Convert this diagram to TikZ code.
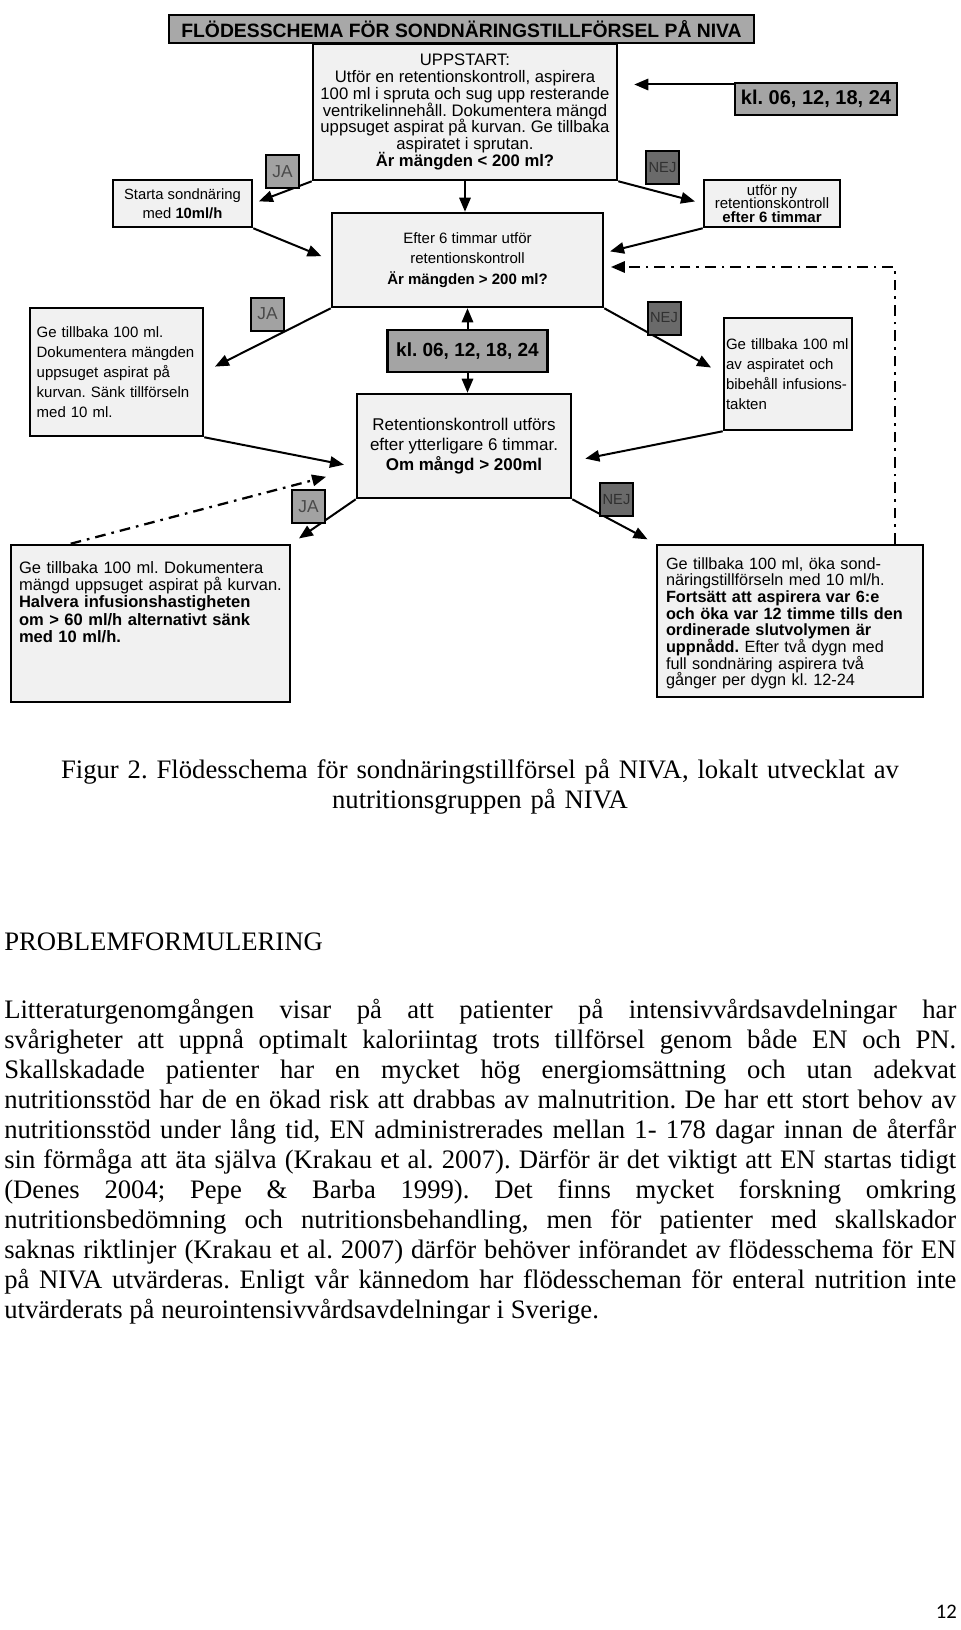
\documentclass[tikz,border=0pt]{standalone}
\usepackage{fontspec}
\setmainfont{Liberation Serif}
\newfontfamily\diafont{Liberation Sans}
\newfontfamily\pagefont{Carlito}
\frenchspacing
\usetikzlibrary{positioning}
\usetikzlibrary{arrows.meta}
\definecolor{boxfill}{HTML}{F1F1F1}
\definecolor{titlefill}{HTML}{A8A8A8}
\definecolor{klfill}{HTML}{A4A4A4}
\definecolor{jafill}{HTML}{A2A2A2}
\definecolor{jatext}{HTML}{4A4A4A}
\definecolor{nejfill}{HTML}{6A6A6A}
\definecolor{nejtext}{HTML}{303030}
\newcommand{\diasize}[2]{\diafont\fontsize{#1}{#2}\selectfont\lineskiplimit=-20pt\relax}
\tikzset{
    flowbox/.style = {rectangle, draw=black, line width=1.9pt, fill=boxfill, inner sep=0pt, align=center, font=\diasize{11.25}{15}},
    titlebox/.style = {flowbox, fill=titlefill, font=\diasize{14.5}{15}\bfseries},
    klbox/.style = {flowbox, fill=klfill, font=\diasize{15}{16}\bfseries},
    leftbox/.style = {flowbox, align=left},
    tagja/.style = {rectangle, draw=black, line width=1.5pt, fill=jafill, text=jatext, minimum size=24.75pt, inner sep=0pt, font=\diasize{13}{13}},
    tagnej/.style = {tagja, fill=nejfill, text=nejtext, font=\diasize{11}{11}},
    edgen/.style = {-{Triangle[length=10.5pt,width=8.5pt]}, line width=1.5pt},
    edgedd/.style = {edgen, line width=1.7pt, dash pattern=on 8pt off 4.5pt on 2pt off 4.5pt}, % dash dot
    pagetext/.style = {inner sep=0pt, font=\fontsize{20}{22.5}\selectfont}
}

\begin{document}
\begin{tikzpicture}[x=0.75pt, y=-0.75pt]
  \useasboundingbox[fill=white] (0,0) rectangle (960,1630);

  % flow chart
  \node[titlebox, minimum width=438.75pt, minimum height=21pt] (title) at (461.5,29) {FLÖDESSCHEMA FÖR SONDNÄRINGSTILLFÖRSEL PÅ NIVA};
  \node[flowbox, minimum width=228pt, minimum height=102pt, font=\diasize{12.5}{12.6}] (start) at (465,112)
    {UPPSTART:\\Utför en retentionskontroll, aspirera\\100 ml i spruta och sug upp resterande\\ventrikelinnehåll. Dokumentera mängd\\uppsuget aspirat på kurvan. Ge tillbaka\\aspiratet i sprutan.\\\textbf{Är mängden < 200 ml?}};
  \node[klbox, minimum width=121.5pt, minimum height=24pt] (klTop) at (816,99) {kl. 06, 12, 18, 24};
  \node[flowbox, minimum width=104.25pt, minimum height=35.25pt, font=\diasize{11.1}{14.25}] (starta) at (182.5,203.5)
    {Starta sondnäring\\med \textbf{10ml/h}};
  \node[flowbox, minimum width=102pt, minimum height=35.25pt, font=\diasize{11.25}{10.2}] (utfor) at (772,203.5)
    {utför ny\\retentionskontroll\\\textbf{efter 6 timmar}};
  \node[flowbox, minimum width=203.25pt, minimum height=70.5pt, font=\diasize{11.25}{15.4}] (mid) at (467.5,260)
    {Efter 6 timmar utför\\retentionskontroll\\\textbf{Är mängden > 200 ml?}};
  \node[leftbox, text width=119.75pt, inner xsep=5pt, minimum height=96pt] (lbox) at (116.5,372)
    {Ge tillbaka 100 ml.\\Dokumentera mängden\\uppsuget aspirat på\\kurvan. Sänk tillförseln\\med 10 ml.};
  \node[leftbox, text width=93pt, inner xsep=1.5pt, minimum height=84pt] (rbox) at (788,374)
    {Ge tillbaka 100 ml\\av aspiratet och\\bibehåll infusions-\\takten};
  \node[klbox, minimum width=120pt, minimum height=31.5pt, font=\diasize{14.25}{15}\bfseries, below=15.5pt of mid] (klMid) {kl. 06, 12, 18, 24};
  \node[flowbox, minimum width=160.5pt, minimum height=78pt, font=\diasize{12.75}{15}] (ret) at (464,446)
    {Retentionskontroll utförs\\efter ytterligare 6 timmar.\\\textbf{Om mångd > 200ml}};
  \node[leftbox, text width=197.25pt, inner xsep=6pt, text height=21pt, text depth=96.75pt, font=\diasize{12.4}{13}] (blbox) at (150.5,623.5)
    {Ge tillbaka 100 ml. Dokumentera\\mängd uppsuget aspirat på kurvan.\\\textbf{Halvera infusionshastigheten}\\\textbf{om > 60 ml/h alternativt sänk}\\\textbf{med 10 ml/h.}};
  \node[leftbox, text width=186pt, inner xsep=6.75pt, text height=18pt, text depth=96pt, font=\diasize{12.2}{12.5}] (brbox) at (790,621)
    {Ge tillbaka 100 ml, öka sond-\\näringstillförseln med 10 ml/h.\\\textbf{Fortsätt att aspirera var 6:e}\\\textbf{och öka var 12 timme tills den}\\\textbf{ordinerade slutvolymen är}\\\textbf{uppnådd.} Efter två dygn med\\full sondnäring aspirera två\\gånger per dygn kl. 12-24};

  \coordinate (loop) at (895,267);
  \draw[edgen, shorten >=12pt] (klTop.170) -- (klTop.170 -| start.east);
  \draw[edgen, shorten >=4.5pt] (start.south west) -- (starta.east);
  \draw[edgen] (start.south) -- (start.south |- mid.north);
  \draw[edgen, shorten >=6pt] (start.south east) -- (utfor.west);
  \draw[edgen, shorten >=7.5pt] (starta.south east) -- (mid.west);
  \draw[edgen, shorten >=4.5pt] (utfor.south west) -- (mid.3);
  \draw[edgedd, shorten >=5pt] (loop |- brbox.north) -- (loop) -- (loop -| mid.east);
  \draw[edgen, shorten >=9pt] (mid.south west) -- (lbox.east);
  \draw[edgen, shorten >=10pt] (mid.south east) -- (rbox.west);
  \draw[edgen] (klMid.north) -- (klMid.north |- mid.south);
  \draw[edgen] (klMid.south) -- (klMid.south |- ret.north);
  \draw[edgen, shorten >=9pt] (lbox.south east) -- (ret.191);
  \draw[edgen, shorten >=10pt] (rbox.south west) -- (ret.-8);
  \draw[edgedd, shorten >=23pt] (blbox.135) -- (ret.192);
  \draw[edgen, shorten >=7pt] (ret.south west) -- (blbox.north east);
  \draw[edgen, shorten >=7pt] (ret.south east) -- (brbox.north west);

  \node[tagja] (ja1) at (282.5,171.5) {JA};
  \node[tagnej] (nej1) at (662.5,168) {NEJ};
  \node[tagja] (ja2) at (267.5,314) {JA};
  \node[tagnej] (nej2) at (664,318) {NEJ};
  \node[tagja] (ja3) at (308.5,506.5) {JA};
  \node[tagnej] (nej3) at (616.5,499.5) {NEJ};

  % page text
  \node[pagetext, text width=714pt, align=center, anchor=base] (caption) at (480,778)
    {Figur 2. Flödesschema för sondnäringstillförsel på NIVA, lokalt utvecklat av\\nutritionsgruppen på NIVA};
  \node[pagetext, anchor=base west] (heading) at (4,950) {PROBLEMFORMULERING};
  \node[pagetext, text width=714pt, align=justify, anchor=base west] (body) at (4,1018)
    {\tolerance=10000 Litteraturgenomgången visar på att patienter på intensivvårdsavdelningar har\linebreak
     svårigheter att uppnå optimalt kaloriintag trots tillförsel genom både EN och PN.\linebreak
     Skallskadade patienter har en mycket hög energiomsättning och utan adekvat\linebreak
     nutritionsstöd har de en ökad risk att drabbas av malnutrition. De har ett stort behov av\linebreak
     nutritionsstöd under lång tid, EN administrerades mellan 1- 178 dagar innan de återfår\linebreak
     sin förmåga att äta själva (Krakau et al. 2007). Därför är det viktigt att EN startas tidigt\linebreak
     (Denes 2004; Pepe \& Barba 1999). Det finns mycket forskning omkring\linebreak
     nutritionsbedömning och nutritionsbehandling, men för patienter med skallskador\linebreak
     saknas riktlinjer (Krakau et al. 2007) därför behöver införandet av flödesschema för EN\linebreak
     på NIVA utvärderas. Enligt vår kännedom har flödesscheman för enteral nutrition inte\linebreak
     utvärderats på neurointensivvårdsavdelningar i Sverige.};
  \node[inner sep=0pt, anchor=base east, font=\pagefont\fontsize{15.5}{16}\selectfont] (pagenum) at (957,1618) {12};
\end{tikzpicture}
\end{document}
